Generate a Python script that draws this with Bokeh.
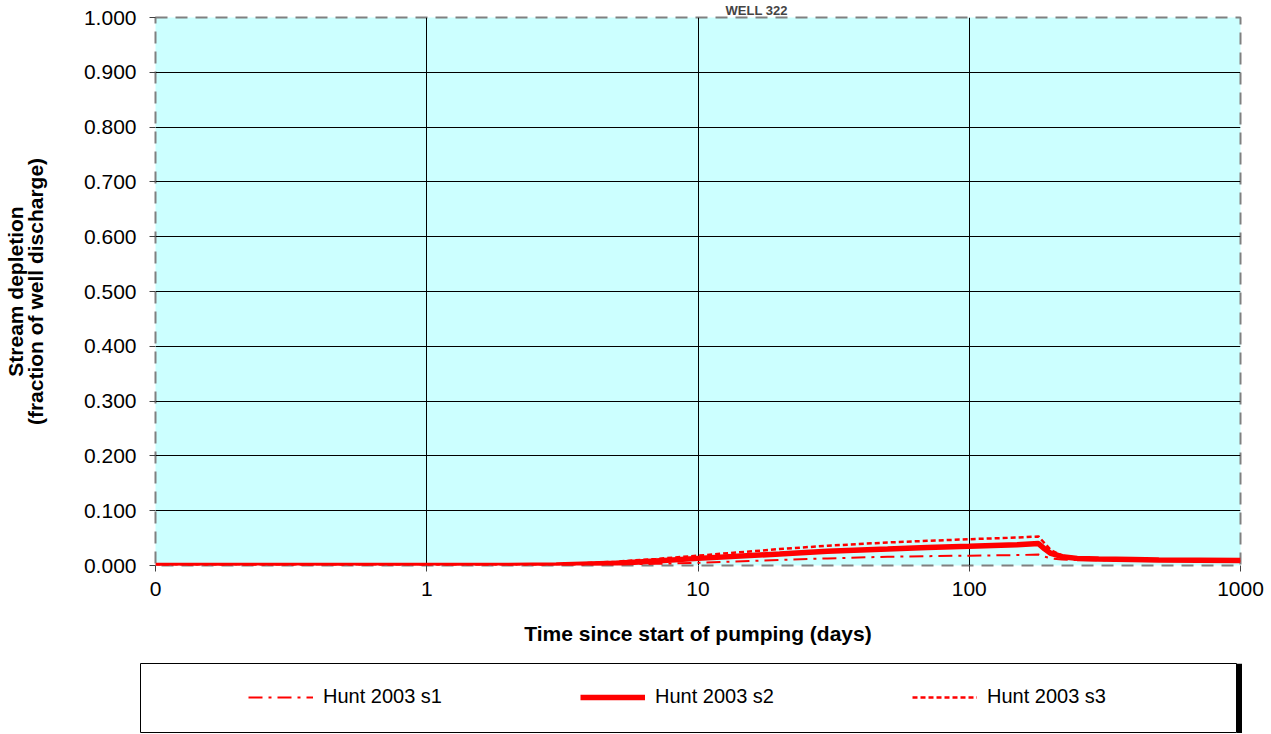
from bokeh.plotting import figure
from bokeh.layouts import column, row
from bokeh.models import (FixedTicker, CustomJSTickFormatter, Legend, LegendItem,
                          Range1d, Spacer)
from bokeh.embed import file_html
from bokeh.resources import INLINE

# ---- data ----
time_days = [0.1, 1, 2, 3, 5, 7, 10, 20, 30, 50, 70, 100, 150, 180,
             190, 200, 220, 250, 300, 400, 500, 700, 1000]
hunt_s1 = [0, 0, 0, 0.0003, 0.002, 0.003, 0.005, 0.010, 0.013, 0.016, 0.017,
           0.018, 0.019, 0.020, 0.016, 0.013, 0.011, 0.010, 0.0095, 0.009,
           0.0085, 0.008, 0.008]
hunt_s2 = [0, 0, 0.0002, 0.001, 0.004, 0.008, 0.013, 0.021, 0.026, 0.030,
           0.033, 0.035, 0.038, 0.040, 0.030, 0.022, 0.016, 0.013, 0.012,
           0.011, 0.010, 0.0095, 0.009]
hunt_s3 = [0, 0, 0.0003, 0.0015, 0.007, 0.012, 0.018, 0.030, 0.036, 0.042,
           0.045, 0.048, 0.051, 0.053, 0.040, 0.028, 0.018, 0.014, 0.012,
           0.011, 0.010, 0.0095, 0.009]
series_names = ["Hunt 2003 s1", "Hunt 2003 s2", "Hunt 2003 s3"]
x_ticks = [0.1, 1, 10, 100, 1000]
y_ticks = [0.0, 0.1, 0.2, 0.3, 0.4, 0.5, 0.6, 0.7, 0.8, 0.9, 1.0]
title_text = "WELL 322"
x_label = "Time since start of pumping (days)"
y_label = "Stream depletion\n(fraction of well discharge)"

FONT = "Liberation Sans"
STYLES = [dict(line_color="red", line_width=2, line_dash="14 6 3 6"),
          dict(line_color="red", line_width=5.5),
          dict(line_color="red", line_width=2.5, line_dash="5 3")]
series = [hunt_s1, hunt_s2, hunt_s3]

p = figure(frame_width=1085, frame_height=548,
           min_border_left=154, min_border_right=24,
           min_border_top=16, min_border_bottom=98,
           x_axis_type="log", x_range=Range1d(0.1, 1000), y_range=Range1d(0, 1),
           output_backend="svg", toolbar_location=None)

p.title.text = title_text
p.title.text_font = FONT
p.title.text_font_size = "13px"
p.title.text_font_style = "bold"
p.title.align = "left"
p.title.offset = 570
p.title.standoff = 0

p.background_fill_color = "#CCFFFF"
p.border_fill_color = "white"
p.outline_line_color = "#808080"
p.outline_line_width = 2
p.outline_line_dash = "12 8"

# grid
p.xgrid.ticker = FixedTicker(ticks=x_ticks)
p.ygrid.ticker = FixedTicker(ticks=y_ticks)
for g in (p.xgrid, p.ygrid):
    g.grid_line_color = "black"
    g.grid_line_width = 1
p.xgrid.minor_grid_line_color = None

# axes
p.xaxis.ticker = FixedTicker(ticks=x_ticks, minor_ticks=[])
p.xaxis.formatter = CustomJSTickFormatter(code="return tick < 0.5 ? '0' : tick.toFixed(0);")
p.yaxis.ticker = FixedTicker(ticks=y_ticks, minor_ticks=[])
p.yaxis.formatter = CustomJSTickFormatter(code="return tick.toFixed(3);")
for ax in (p.xaxis, p.yaxis):
    ax.axis_line_color = None
    ax.major_tick_line_color = "#404040"
    ax.major_tick_in = 0
    ax.major_tick_out = 6
    ax.minor_tick_line_color = None
    ax.major_label_text_font = FONT
    ax.major_label_text_font_size = "21px"
    ax.major_label_text_color = "black"
    ax.axis_label_text_font = FONT
    ax.axis_label_text_font_size = "21px"
    ax.axis_label_text_font_style = "bold"
    ax.axis_label_text_color = "black"
p.xaxis.axis_label = x_label
p.yaxis.axis_label = y_label
p.yaxis.axis_label_text_line_height = 0.88
p.xaxis.major_label_standoff = 10
p.yaxis.major_label_standoff = 13
p.xaxis.axis_label_standoff = 23
p.yaxis.axis_label_standoff = 34

# series
for ys, st in zip(series, STYLES):
    p.line(time_days, ys, **st)

# ---- legend panel (boxed, with a shadow on the right) ----
# the series are drawn again here only to feed the legend; the y range keeps them out of view
leg = figure(frame_width=1096, frame_height=70, x_range=Range1d(0.1, 1000), y_range=Range1d(2, 3),
             x_axis_type="log", x_axis_location=None, y_axis_location=None,
             min_border=0, min_border_right=6,
             output_backend="svg", toolbar_location=None)
leg.grid.visible = False
leg.outline_line_color = "black"
leg.outline_line_width = 1
leg.background_fill_color = "white"
leg.border_fill_color = "black"

items = []
for name, ys, st in zip(series_names, series, STYLES):
    r = leg.line(time_days, ys, **st)
    items.append(LegendItem(label=name, renderers=[r]))

legend = Legend(items=items, orientation="horizontal", location=(108, 25),
                glyph_width=65, glyph_height=20, label_standoff=10,
                label_width=200, spacing=57, padding=0, margin=0,
                border_line_color=None, background_fill_alpha=0,
                label_text_font=FONT, label_text_font_size="20px",
                label_text_color="black")
leg.add_layout(legend)

layout = column(p, row(Spacer(width=140, height=70), leg))

open("out.html", "w").write(file_html(layout, INLINE))
